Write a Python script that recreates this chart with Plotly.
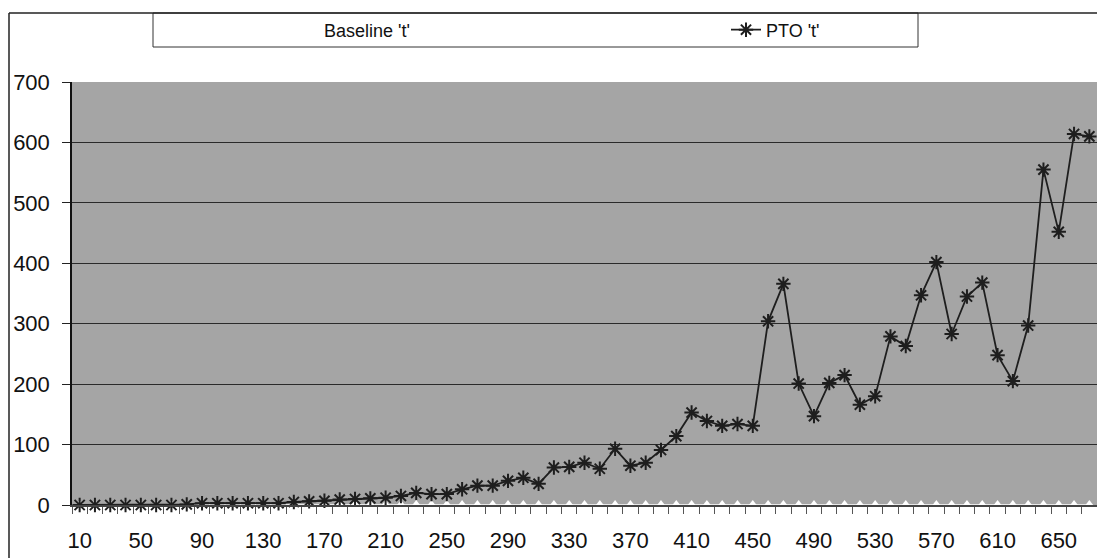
import plotly.graph_objects as go

x_vals = [10, 20, 30, 40, 50, 60, 70, 80, 90, 100, 110, 120, 130, 140, 150, 160, 170, 180, 190, 200,
          210, 220, 230, 240, 250, 260, 270, 280, 290, 300, 310, 320, 330, 340, 350, 360, 370, 380, 390, 400,
          410, 420, 430, 440, 450, 460, 470, 480, 490, 500, 510, 520, 530, 540, 550, 560, 570, 580, 590, 600,
          610, 620, 630, 640, 650, 660, 670]

pto_t = [0, 0, 0, 0, 0, 0, 0, 1, 3, 3, 3, 3, 3, 3, 5, 6, 7, 9, 10, 11,
         12, 15, 20, 18, 18, 26, 32, 32, 40, 45, 35, 62, 63, 70, 60, 93, 65, 70, 91, 114,
         153, 139, 131, 134, 131, 304, 366, 201, 147, 202, 215, 166, 180, 279, 263, 347, 402, 283, 345, 368,
         248, 205, 297, 555, 452, 614, 610]

baseline_t = [0, 0, 0, 0, 0, 0, 0, 0, 0, 0, 0, 0, 0, 0, 0, 0, 0, 0, 0, 0,
              0, 0, 0, 0, 0, 0, 0, 0, 0, 0, 0, 0, 0, 0, 0, 0, 0, 0, 0, 0,
              0, 0, 0, 0, 0, 0, 0, 0, 0, 0, 0, 0, 0, 0, 0, 0, 0, 0, 0, 0,
              0, 0, 0, 0, 0, 0, 0]

x_ticks = [10, 50, 90, 130, 170, 210, 250, 290, 330, 370, 410, 450, 490, 530, 570, 610, 650]
y_ticks = [0, 100, 200, 300, 400, 500, 600, 700]

W, H = 1097, 558
L, R, T, B = 72, 0, 82, 53
PW, PH = W - L - R, H - T - B


def px(xp):
    return (xp - L) / PW


def py(yp):
    return (H - B - yp) / PH


FONT = "Liberation Sans, Arial, sans-serif"

fig = go.Figure()
fig.add_trace(go.Scatter(
    x=x_vals, y=baseline_t, name="Baseline 't'", mode="lines+markers",
    line=dict(color="white", width=1.5),
    marker=dict(symbol="triangle-up", size=10, color="white"),
    cliponaxis=False, legend="legend",
))
fig.add_trace(go.Scatter(
    x=x_vals, y=pto_t, name="PTO 't'", mode="lines+markers",
    line=dict(color="#1e1e1e", width=1.8),
    marker=dict(symbol="asterisk-open", size=12, color="#1e1e1e",
                line=dict(color="#1e1e1e", width=2)),
    cliponaxis=False, legend="legend2",
))

shapes = [
    dict(type="line", xref="paper", yref="paper", x0=px(9), x1=px(W), y0=py(13), y1=py(13),
         line=dict(color="#222", width=1.5), layer="above"),
    dict(type="line", xref="paper", yref="paper", x0=px(9), x1=px(9), y0=py(13), y1=py(H),
         line=dict(color="#222", width=1.5), layer="above"),
    dict(type="rect", xref="paper", yref="paper", x0=px(153), x1=px(918), y0=py(47), y1=py(13),
         line=dict(color="#333", width=1), fillcolor="white", layer="below"),
]

fig.update_layout(
    width=W, height=H,
    margin=dict(l=L, r=R, t=T, b=B, pad=0, autoexpand=False),
    paper_bgcolor="white",
    plot_bgcolor="#a5a5a5",
    font=dict(family=FONT, size=22, color="#111"),
    shapes=shapes,
    showlegend=True,
    legend=dict(x=px(284), y=py(30), xanchor="left", yanchor="middle",
                bgcolor="rgba(0,0,0,0)", font=dict(size=18, family=FONT, color="#111"),
                itemwidth=30),
    legend2=dict(x=px(726), y=py(30), xanchor="left", yanchor="middle",
                 bgcolor="rgba(0,0,0,0)", font=dict(size=18, family=FONT, color="#111"),
                 itemwidth=30),
    xaxis=dict(
        range=[5, 675], tickmode="array", tickvals=x_ticks,
        ticktext=[str(v) for v in x_ticks],
        ticks="outside", ticklen=7, tickcolor="rgba(0,0,0,0)",
        showgrid=False, zeroline=False,
        showline=True, linecolor="#444", linewidth=1.5,
        tickfont=dict(size=22), ticklabelstandoff=8,
        minor=dict(tickmode="linear", ticks="outside", ticklen=7, tickcolor="#555", tickwidth=1,
                   tick0=5, dtick=10, showgrid=False),
        fixedrange=True,
    ),
    yaxis=dict(
        range=[0, 700], tickmode="array", tickvals=y_ticks,
        ticks="outside", ticklen=8, tickcolor="#222", tickwidth=1,
        showgrid=True, gridcolor="#2a2a2a", gridwidth=1,
        zeroline=False, showline=True, linecolor="#111", linewidth=1.5,
        tickfont=dict(size=22), ticklabelstandoff=8,
        fixedrange=True,
    ),
)

fig.write_html("out.html")
